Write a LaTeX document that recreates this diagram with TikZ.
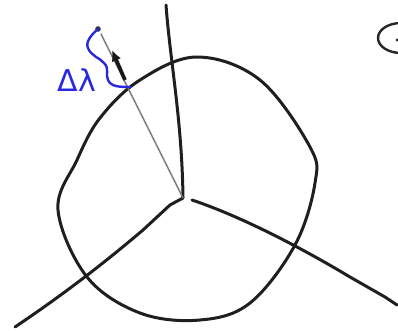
\documentclass[tikz,border=0pt]{standalone}
\usepackage{fontspec}
\newfontfamily\labelfont{DejaVu Sans}
\usetikzlibrary{arrows.meta}
\definecolor{penblue}{RGB}{40,40,225}
\definecolor{pengray}{RGB}{120,120,120}
\tikzset{
  ink/.style={line width=3pt, black!88, line cap=round, line join=round},
  thin ink/.style={line width=1.4pt, pengray, line cap=round},
  blue ink/.style={line width=2.4pt, penblue, line cap=round, line join=round},
}
\begin{document}
\begin{tikzpicture}[x=1pt,y=-1pt]
\useasboundingbox (0,0) rectangle (398,331);
\clip (0,0) rectangle (398,331);
\coordinate (J) at (183,198);
\coordinate (top) at (166,5);
\coordinate (ll) at (15,327);
\coordinate (rr) at (397,305);
\coordinate (dot) at (98,29);
% circle
\draw[ink] plot[smooth cycle, tension=0.6] coordinates {
 (197,57) (260,80) (310,147) (315,183) (295,245) (250,303) (200,320)
 (140,313) (87,277) (58,210) (77,160) (100,118) (140,80)};
% spokes
\draw[ink] (top) .. controls (170,60) and (182,120) .. (J);
\draw[ink] (J) -- (170,205) -- (143,230) .. controls (110,258) and (70,290) .. (ll);
\draw[ink] (192,200) .. controls (240,216) and (300,247) .. (350,277) -- (385,297) -- (rr);
% gray radius
\draw[thin ink] (J) -- (101,34);
\fill[black!80] (dot) circle (2.8pt);
% arrow
\draw[line width=3.6pt, black!90, -{Latex[length=11pt,width=10pt]}] (125,80) -- (112,50);
% blue squiggle
\draw[blue ink] (dot) .. controls (92,34) and (85,42) .. (88,48)
  .. controls (91,56) and (100,58) .. (104,63)
  .. controls (110,69) and (105,74) .. (108,80)
  .. controls (111,87) and (120,87) .. (131,87);
\node[text=penblue, font=\labelfont\fontsize{30}{30}\selectfont, inner sep=0pt] (dl) at (77,80) {Δλ};
% circled dot at right edge
\draw[line width=2.4pt, black!85] (401,38) ellipse (23pt and 15pt);
\fill[black!80] (397,40) circle (1.6pt);
\end{tikzpicture}
\end{document}
